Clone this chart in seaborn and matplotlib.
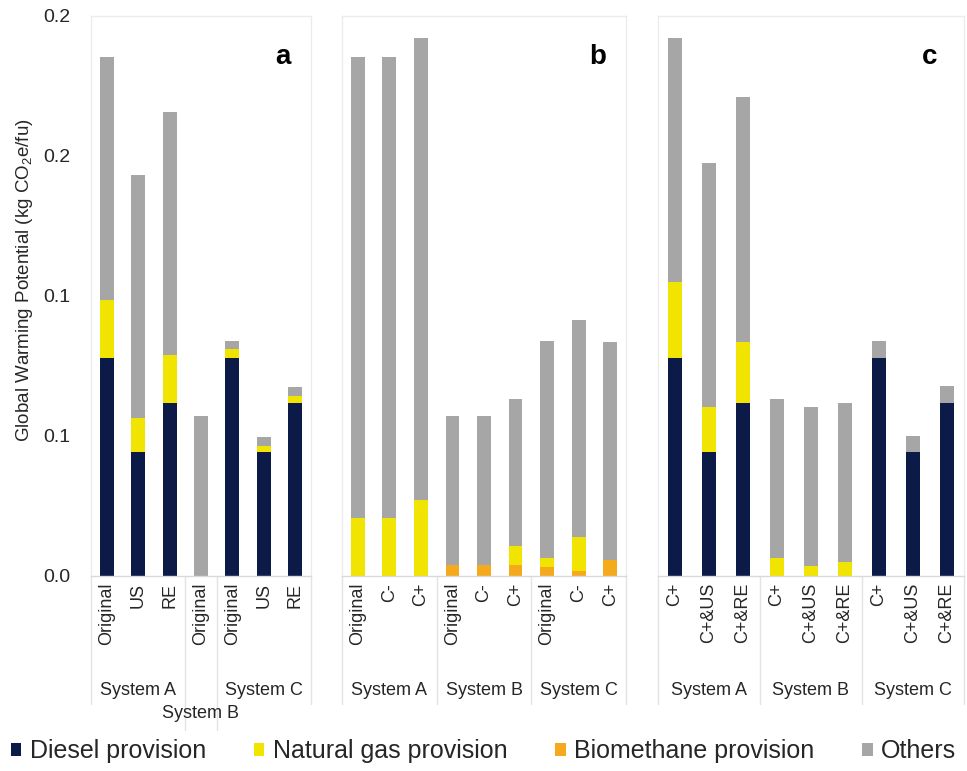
import numpy as np
import pandas as pd
import matplotlib
matplotlib.use("Agg")
import matplotlib.pyplot as plt
import matplotlib.transforms as mtransforms
from matplotlib.patches import Patch
import seaborn as sns

# ---- data (kg CO2e / fu) ----
a_system = ["System A"] * 3 + ["System B"] + ["System C"] * 3
a_scenario = ["Original", "US", "RE", "Original", "Original", "US", "RE"]
a_diesel = [0.0779, 0.0443, 0.0618, 0.0, 0.0779, 0.0443, 0.0618]
a_bio = [0.0, 0.0, 0.0, 0.0, 0.0, 0.0, 0.0]
a_gas = [0.0207, 0.0121, 0.0171, 0.0, 0.0032, 0.0021, 0.0025]
a_others = [0.0868, 0.0868, 0.0868, 0.0571, 0.0028, 0.0032, 0.0032]

b_system = ["System A"] * 3 + ["System B"] * 3 + ["System C"] * 3
b_scenario = ["Original", "C-", "C+"] * 3
b_diesel = [0.0] * 9
b_bio = [0.0, 0.0, 0.0, 0.0039, 0.0039, 0.0039, 0.0033, 0.0018, 0.0057]
b_gas = [0.0207, 0.0207, 0.0271, 0.0, 0.0, 0.0068, 0.0030, 0.0122, 0.0]
b_others = [0.1647, 0.1647, 0.1650, 0.0532, 0.0532, 0.0525, 0.0776, 0.0774, 0.0779]

c_system = ["System A"] * 3 + ["System B"] * 3 + ["System C"] * 3
c_scenario = ["C+", "C+&US", "C+&RE"] * 3
c_diesel = [0.0779, 0.0443, 0.0618, 0.0, 0.0, 0.0, 0.0779, 0.0443, 0.0618]
c_bio = [0.0] * 9
c_gas = [0.0271, 0.0161, 0.0218, 0.0064, 0.0036, 0.0051, 0.0, 0.0, 0.0]
c_others = [0.0871, 0.0871, 0.0875, 0.0568, 0.0568, 0.0567, 0.0060, 0.0057, 0.0061]

y_ticks = [0.0, 0.05, 0.10, 0.15, 0.20]
y_ticklabels = ["0.0", "0.1", "0.1", "0.2", "0.2"]

legend_order = ["Diesel provision", "Natural gas provision", "Biomethane provision", "Others"]
palette = {
    "Diesel provision": "#0c1a48",
    "Natural gas provision": "#f1e400",
    "Biomethane provision": "#f5a91d",
    "Others": "#a6a6a6",
}

sns.set_style("white")
plt.rcParams["font.family"] = ["Liberation Sans", "DejaVu Sans"]
plt.rcParams["mathtext.default"] = "regular"
txt_col = "#262626"


def make_frame(system, scenario, diesel, bio, gas, others):
    df = pd.DataFrame({"system": system, "scenario": scenario,
                       "diesel": diesel, "bio": bio, "gas": gas, "others": others})
    df["key"] = df["system"] + "|" + df["scenario"] + "|" + df.index.astype(str)
    # cumulative tops, stacking order: diesel, biomethane, natural gas, others
    df["top_diesel"] = df["diesel"]
    df["top_bio"] = df["diesel"] + df["bio"]
    df["top_gas"] = df["top_bio"] + df["gas"]
    df["top_others"] = df["top_gas"] + df["others"]
    return df


def draw_panel(ax, df, width, letter, letter_x, low_groups=()):
    order = list(df["key"])
    layers = [("top_others", "others", "Others"),
              ("top_gas", "gas", "Natural gas provision"),
              ("top_bio", "bio", "Biomethane provision"),
              ("top_diesel", "diesel", "Diesel provision")]
    for top_col, part_col, name in layers:
        d = df.copy()
        d.loc[d[part_col] <= 0, top_col] = np.nan
        sns.barplot(data=d, x="key", y=top_col, order=order, color=palette[name],
                    saturation=1, width=width, errorbar=None, linewidth=0, ax=ax)

    n = len(df)
    ax.set_xlim(-0.5, n - 0.5)
    ax.set_ylim(0, 0.2)
    ax.set_xlabel("")
    ax.set_ylabel("")
    ax.set_xticks(range(n))
    ax.set_xticklabels(df["scenario"], rotation=90, fontsize=13, color=txt_col,
                       va="top", ha="center")
    ax.tick_params(axis="x", length=0, pad=5)
    ax.tick_params(axis="y", length=0)
    for s in ["top", "left", "right"]:
        ax.spines[s].set_color("#ececec")
        ax.spines[s].set_linewidth(1)
    ax.spines["bottom"].set_color("#d9d9d9")
    ax.spines["bottom"].set_linewidth(1)

    # hierarchical category axis: group separators and group names
    trans = mtransforms.blended_transform_factory(ax.transData, ax.transAxes)
    systems = list(df["system"])
    bounds = [-0.5]
    groups = []
    start = 0
    for i in range(1, n + 1):
        if i == n or systems[i] != systems[start]:
            groups.append((systems[start], start, i - 1))
            bounds.append(i - 0.5)
            start = i
    for g, i0, i1 in groups:
        low = g in low_groups
        ax.text((i0 + i1) / 2, -0.245 if low else -0.205, g, transform=trans,
                ha="center", va="center", fontsize=13, color=txt_col)
    for b in bounds:
        deep = any(b in (i0 - 0.5, i1 + 0.5) for g, i0, i1 in groups if g in low_groups)
        ax.plot([b, b], [0, -0.275 if deep else -0.228], transform=trans,
                color="#e3e3e3", lw=1, clip_on=False)

    ax.text(letter_x, 0.927, letter, transform=ax.transAxes, fontsize=20,
            fontweight="bold", color="black", ha="center", va="center")


fig = plt.figure(figsize=(9.67, 7.71), dpi=100)
W, H = 967, 771
bot, hgt = (H - 576) / H, 560 / H
ax_a = fig.add_axes([91 / W, bot, 220 / W, hgt])
ax_b = fig.add_axes([342 / W, bot, 284 / W, hgt])
ax_c = fig.add_axes([658 / W, bot, 306 / W, hgt])

df_a = make_frame(a_system, a_scenario, a_diesel, a_bio, a_gas, a_others)
df_b = make_frame(b_system, b_scenario, b_diesel, b_bio, b_gas, b_others)
df_c = make_frame(c_system, c_scenario, c_diesel, c_bio, c_gas, c_others)

draw_panel(ax_a, df_a, 0.45, "a", 0.873, low_groups=("System B",))
draw_panel(ax_b, df_b, 0.44, "b", 0.901)
draw_panel(ax_c, df_c, 0.40, "c", 0.889)

ax_a.set_yticks(y_ticks)
ax_a.set_yticklabels(y_ticklabels, fontsize=14, color=txt_col)
ax_a.tick_params(axis="y", pad=15)
for ax in (ax_b, ax_c):
    ax.set_yticks(y_ticks)
    ax.set_yticklabels([])

fig.text(25 / W, 1 - 280 / H, "Global Warming Potential (kg CO$_2$e/fu)",
         rotation=90, ha="center", va="center", fontsize=13.5, color=txt_col)

handles = [Patch(facecolor=palette[k], edgecolor="none") for k in legend_order]
fig.legend(handles, legend_order, loc="center", bbox_to_anchor=(0.5, 1 - 751 / H),
           ncol=4, frameon=False, fontsize=18, handlelength=0.42, handleheight=0.42,
           handletextpad=0.35, columnspacing=1.9, labelcolor=txt_col)

fig.savefig("out.png", dpi=100)
